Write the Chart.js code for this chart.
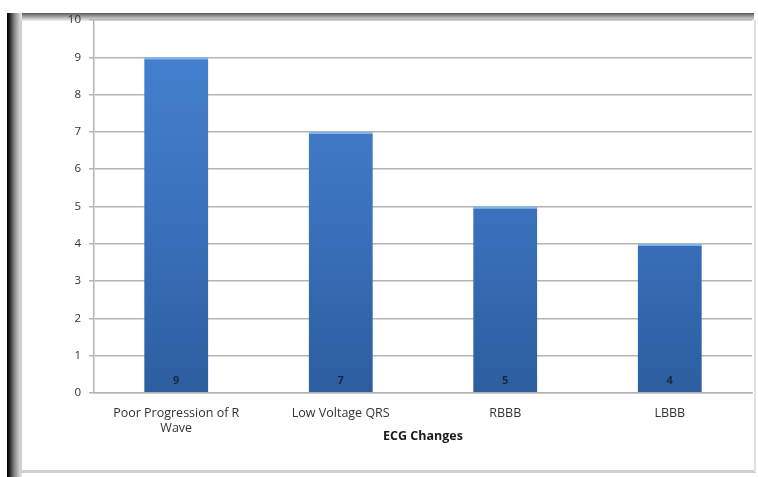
<!DOCTYPE html>
<html>
<head>
<meta charset="utf-8">
<title>ECG Changes</title>
<script src="https://cdn.jsdelivr.net/npm/chart.js@4"></script>
<style>
  html, body { margin: 0; padding: 0; background: #fff; }
  #wrap { width: 758px; height: 477px; position: relative; }
</style>
</head>
<body>
<div id="wrap"><canvas id="ecgChart" width="758" height="477"></canvas></div>
<script>
// 数据
const categories = [['Poor Progression of R', 'Wave'], 'Low Voltage QRS', 'RBBB', 'LBBB'];
const counts = [9, 7, 5, 4];
const yTicks = [0, 1, 2, 3, 4, 5, 6, 7, 8, 9, 10];

const FONT = '"Open Sans", "Liberation Sans", sans-serif';

// 外框：左侧深色阴影、上边灰色渐变、下边和右边浅灰线
const framePlugin = {
  id: 'frame',
  beforeDraw(chart) {
    const ctx = chart.ctx;
    ctx.save();
    ctx.fillStyle = '#fff';
    ctx.fillRect(0, 0, chart.width, chart.height);

    const top = ctx.createLinearGradient(0, 13, 0, 21);
    top.addColorStop(0, '#5a5a5a');
    top.addColorStop(0.5, '#a8a8a8');
    top.addColorStop(1, '#f4f4f4');
    ctx.fillStyle = top;
    ctx.fillRect(8, 13, 746, 8);

    const left = ctx.createLinearGradient(7, 0, 22, 0);
    left.addColorStop(0, '#000');
    left.addColorStop(0.15, '#1a1a1a');
    left.addColorStop(0.45, '#7a7a7a');
    left.addColorStop(0.8, '#c8c8c8');
    left.addColorStop(1, '#e8e8e8');
    ctx.fillStyle = left;
    ctx.fillRect(7, 13, 15, 464);

    ctx.fillStyle = '#cfcfcf';
    ctx.fillRect(20, 20, 2, 452);
    ctx.fillRect(20, 470, 736, 3);
    ctx.fillStyle = '#e2e2e2';
    ctx.fillRect(754, 20, 2, 452);
    ctx.restore();
  }
};

// 柱子底部数值标签
const valueLabels = {
  id: 'valueLabels',
  afterDatasetsDraw(chart) {
    const ctx = chart.ctx;
    const yScale = chart.scales.y;
    const meta = chart.getDatasetMeta(0);
    ctx.save();
    ctx.font = 'bold 11px ' + FONT;
    ctx.fillStyle = '#1a2740';
    ctx.textAlign = 'center';
    ctx.textBaseline = 'middle';
    meta.data.forEach((bar, i) => {
      ctx.fillText(String(counts[i]), bar.x, yScale.getPixelForValue(0) - 12);
    });
    ctx.restore();
  }
};

const ctx = document.getElementById('ecgChart').getContext('2d');

new Chart(ctx, {
  type: 'bar',
  data: {
    labels: categories,
    datasets: [{
      data: counts,
      backgroundColor(context) {
        const area = context.chart.chartArea;
        if (!area) return '#3a75c4';
        const g = context.chart.ctx.createLinearGradient(0, area.top, 0, area.bottom);
        g.addColorStop(0, '#4683d2');
        g.addColorStop(0.5, '#3b72bd');
        g.addColorStop(1, '#2c5e9f');
        return g;
      },
      borderColor: '#7cb6ee',
      borderWidth: { top: 2, left: 0, right: 0, bottom: 0 },
      borderSkipped: 'bottom',
      categoryPercentage: 1,
      barPercentage: 0.39
    }]
  },
  options: {
    responsive: false,
    animation: false,
    layout: { padding: { top: 20, right: 6, left: 0, bottom: 33 } },
    plugins: {
      legend: { display: false },
      tooltip: { enabled: false }
    },
    scales: {
      y: {
        min: 0,
        max: 10,
        afterBuildTicks(scale) {
          scale.ticks = yTicks.map(v => ({ value: v }));
        },
        afterFit(scale) { scale.width = 94; },
        ticks: {
          color: '#333',
          font: { family: FONT, size: 11.5 },
          padding: 8
        },
        grid: {
          color: '#b4b4b4',
          lineWidth: 1.5,
          tickLength: 5,
          tickColor: '#b4b4b4'
        },
        border: { color: '#b4b4b4', width: 1.5 }
      },
      x: {
        afterFit(scale) { scale.height = 51; },
        ticks: {
          color: '#333',
          font: { family: FONT, size: 12.5, lineHeight: 1.2 },
          padding: 5,
          maxRotation: 0
        },
        grid: { display: false },
        border: { color: '#b4b4b4', width: 1.5 },
        title: {
          display: true,
          text: 'ECG Changes',
          color: '#1a1a1a',
          font: { family: FONT, size: 12.5, weight: 'bold' },
          padding: { top: 0, bottom: 0 }
        }
      }
    }
  },
  plugins: [framePlugin, valueLabels]
});
</script>
</body>
</html>
